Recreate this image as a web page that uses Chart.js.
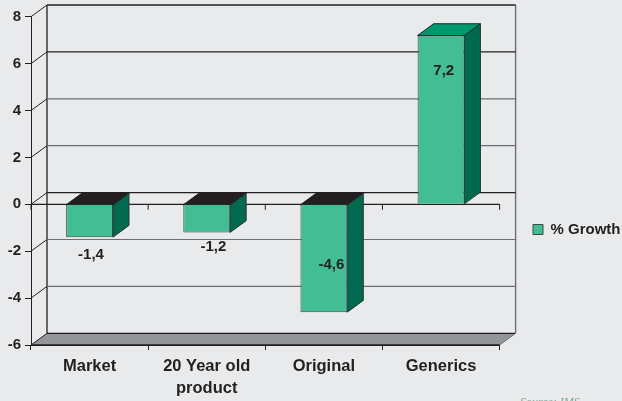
<!DOCTYPE html>
<html>
<head>
<meta charset="utf-8">
<style>
  html, body { margin: 0; padding: 0; background: #e9eaec; }
  #wrap { position: relative; width: 622px; height: 401px; overflow: hidden; }
  #source { position: absolute; left: 520px; top: 395px; font: italic 12px "Liberation Serif", serif; color: #7fa89a; }
</style>
<script src="https://cdn.jsdelivr.net/npm/chart.js@4/dist/chart.umd.min.js"></script>
</head>
<body>
<div id="wrap">
  <canvas id="chart" width="622" height="401"></canvas>
  <div id="source">Source: IMS</div>
</div>
<script>
const categories = [['Market'], ['20 Year old', 'product'], ['Original'], ['Generics']];
const growth = [-1.4, -1.2, -4.6, 7.2];
const seriesName = '% Growth';
const yMin = -6;
const yMax = 8;
const yStep = 2;

const dark = '#231f20';
const grey = '#6d6e71';
const front = '#42bd94';
const side = '#00694e';
const topUp = '#00996f';
const floorColor = '#939598';
const family = '"Liberation Sans", Arial, sans-serif';
const axisFont = { family: family, size: 15, weight: 'bold' };
const catFont = { family: family, size: 16.5, weight: 'bold', lineHeight: 1.32 };

// depth of the fake 3d box, and where each value label sits relative to its bar
const depthX = 16;
const depthY = -11.7;
const labelAt = [
    { dx: 1.4, dy: 18 },
    { dx: 6.7, dy: 14 },
    { dx: 7.5, dy: -47 },
    { dx: 2.7, dy: 35.5 }
];

function poly(ctx, pts, fill, stroke) {
    ctx.beginPath();
    pts.forEach((p, i) => i ? ctx.lineTo(p[0], p[1]) : ctx.moveTo(p[0], p[1]));
    ctx.closePath();
    ctx.fillStyle = fill;
    ctx.fill();
    if (stroke) {
        ctx.strokeStyle = stroke;
        ctx.lineWidth = 1;
        ctx.stroke();
    }
}

function line(ctx, x1, y1, x2, y2, color, width) {
    ctx.beginPath();
    ctx.moveTo(x1, y1);
    ctx.lineTo(x2, y2);
    ctx.strokeStyle = color;
    ctx.lineWidth = width || 1;
    ctx.stroke();
}

const box3d = {
    id: 'box3d',
    afterLayout(chart) {
        // legend sits at a fixed spot to the right of the box
        const legend = chart.legend;
        legend.left = 528;
        legend.right = 622;
        legend.top = 217;
        legend.bottom = 242;
        legend.adjustHitBoxes();
    },
    beforeDatasetsDraw(chart) {
        const ctx = chart.ctx;
        const x = chart.scales.x;
        const y = chart.scales.y;
        const left = x.left, right = x.right;
        const top = y.getPixelForValue(yMax), bottom = y.getPixelForValue(yMin);
        ctx.save();

        // floor
        poly(ctx, [[left, bottom], [left + depthX, bottom + depthY], [right + depthX, bottom + depthY], [right, bottom]], floorColor);
        line(ctx, left, bottom, right, bottom, dark, 1.5);
        line(ctx, left + depthX, bottom + depthY, right + depthX, bottom + depthY, dark, 1.2);

        // back wall and its grid
        line(ctx, right + depthX, top + depthY, right + depthX, bottom + depthY, grey, 1.4);
        line(ctx, right, bottom, right + depthX, bottom + depthY, grey, 1);
        line(ctx, left + depthX, top + depthY, right + depthX, top + depthY, dark, 1.3);
        line(ctx, left + depthX, top + depthY, left + depthX, bottom + depthY, dark, 1.3);
        for (let v = yMin; v <= yMax; v += yStep) {
            const py = y.getPixelForValue(v);
            line(ctx, left, py, left + depthX, py + depthY, dark, 1);
            if (v > yMin && v < yMax) {
                line(ctx, left + depthX, py + depthY, right + depthX, py + depthY, v === 6 || v === 0 ? dark : grey, 1.2);
            }
        }

        // zero line with its own ticks
        const zero = y.getPixelForValue(0);
        line(ctx, left, zero, right, zero, dark, 1.2);
        const step = (right - left) / categories.length;
        for (let i = 0; i <= categories.length; i++) {
            line(ctx, left + i * step, zero, left + i * step, zero + 5.5, dark, 1);
        }

        // side and top faces, the front face is the library's own bar
        chart.getDatasetMeta(0).data.forEach((bar, i) => {
            const l = bar.x - bar.width / 2, r = bar.x + bar.width / 2;
            const t = Math.min(bar.y, bar.base), b = Math.max(bar.y, bar.base);
            poly(ctx, [[r, t], [r + depthX, t + depthY], [r + depthX, b + depthY], [r, b]], side, '#2b3a36');
            poly(ctx, [[l, t], [l + depthX, t + depthY], [r + depthX, t + depthY], [r, t]], growth[i] < 0 ? dark : topUp, dark);
        });
        ctx.restore();
    },
    afterDatasetsDraw(chart) {
        const ctx = chart.ctx;
        ctx.save();
        ctx.font = 'bold 15px ' + family;
        ctx.fillStyle = dark;
        ctx.textAlign = 'center';
        ctx.textBaseline = 'middle';
        chart.getDatasetMeta(0).data.forEach((bar, i) => {
            const end = growth[i] < 0 ? Math.max(bar.y, bar.base) : Math.min(bar.y, bar.base);
            ctx.fillText(String(growth[i]).replace('.', ','), bar.x + labelAt[i].dx, end + labelAt[i].dy);
        });
        ctx.restore();
    }
};

new Chart(document.getElementById('chart'), {
    type: 'bar',
    plugins: [box3d],
    data: {
        labels: categories,
        datasets: [{
            label: seriesName,
            data: growth,
            backgroundColor: front,
            borderColor: '#3a4a45',
            borderWidth: 1,
            barPercentage: 0.4,
            categoryPercentage: 1
        }]
    },
    options: {
        responsive: false,
        animation: false,
        layout: { padding: { left: 0, top: 16.7, right: 122.4, bottom: 0 } },
        scales: {
            x: {
                afterFit(scale) { scale.height = 56; },
                border: { color: dark, width: 1 },
                grid: { drawOnChartArea: false, drawTicks: true, tickLength: 5, tickColor: dark, color: dark },
                ticks: { font: catFont, color: dark, padding: 6, maxRotation: 0, autoSkip: false }
            },
            y: {
                min: yMin,
                max: yMax,
                afterFit(scale) { scale.width = 31; },
                border: { color: dark, width: 1 },
                grid: { drawOnChartArea: false, drawTicks: true, tickLength: 6, tickColor: dark, color: dark },
                ticks: { stepSize: yStep, font: axisFont, color: dark, padding: 4 }
            }
        },
        plugins: {
            tooltip: { enabled: false },
            legend: {
                position: 'chartArea',
                align: 'start',
                labels: {
                    font: axisFont,
                    color: dark,
                    boxWidth: 10,
                    boxHeight: 10,
                    padding: 5
                }
            }
        }
    }
});
</script>
</body>
</html>
